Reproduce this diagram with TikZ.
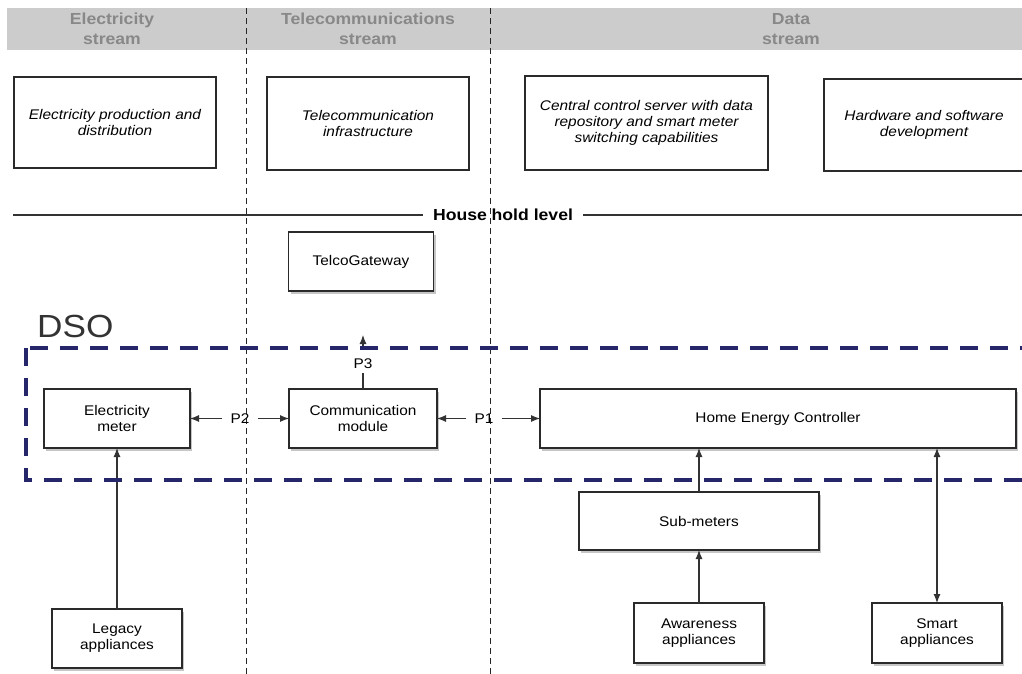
\documentclass[tikz,border=0pt]{standalone}
\usepackage{fontspec}
\setmainfont{Liberation Sans}[FakeStretch=1.1]
\usetikzlibrary{shadows,arrows.meta}
\definecolor{hdrgray}{HTML}{CCCCCC}
\definecolor{hdrtext}{HTML}{888888}
\definecolor{dsoblue}{RGB}{38,38,106}
\definecolor{edge}{HTML}{2A2A2A}
\tikzset{
  topbox/.style={draw=edge, line width=1.1pt, align=center, inner sep=2pt, outer sep=0pt,
    font=\fontsize{14}{16}\selectfont\itshape, text=black},
  box/.style={draw=edge, line width=1.1pt, fill=white, align=center, inner sep=2pt, outer sep=0pt,
    font=\fontsize{14}{16}\selectfont, text=black,
    drop shadow={shadow xshift=2pt, shadow yshift=-3pt, opacity=0.45}},
  hdr/.style={font=\bfseries\fontsize{16}{20}\selectfont, text=hdrtext, align=center, inner sep=0pt},
  vline/.style={draw=black!85, line width=0.8pt, dash pattern=on 6pt off 4pt},
  conn/.style={draw=black!80, line width=1.1pt},
  arr/.style={conn, -{Latex[length=9pt,width=7pt]}},
  darr/.style={conn, {Latex[length=9pt,width=7pt]}-{Latex[length=9pt,width=7pt]}},
  plab/.style={font=\fontsize{14}{16}\selectfont, text=black, inner xsep=8pt, inner ysep=5pt},
  dsobox/.style={draw=dsoblue, line width=4pt, dash pattern=on 18pt off 12pt}
}
\begin{document}
\begin{tikzpicture}[x=1pt,y=-1pt]
\useasboundingbox (0,0) rectangle (1022,674);
% header band
\fill[hdrgray] (7,8) rectangle (1022,50);
\node[hdr] (h1) at (112,29) {Electricity\\stream};
\node[hdr] (h2) at (368,29) {Telecommunications\\stream};
\node[hdr] (h3) at (791,29) {Data\\stream};
% stream separators
\draw[vline] (246,8) -- (246,674);
\draw[vline] (490,8) -- (490,674);
% top boxes
\node[topbox, minimum width=202pt, minimum height=91pt] (eprod) at (115,122.5) {Electricity production and\\distribution};
\node[topbox, minimum width=202pt, minimum height=93pt] (tinf) at (368,123.5) {Telecommunication\\infrastructure};
\node[topbox, minimum width=243pt, minimum height=94pt] (ccs) at (646.5,123) {Central control server with data\\repository and smart meter\\switching capabilities};
\node[topbox, minimum width=200pt, minimum height=92pt] (hw) at (924,125) {Hardware and software\\development};
% household level
\node[font=\bfseries\fontsize{16}{18}\selectfont, text=black, inner xsep=10pt, inner ysep=0pt] (hh) at (503,215) {House hold level};
\coordinate (hl) at (13,215);
\coordinate (hr) at (1022,215);
\draw[conn] (hl) -- (hh.west);
\draw[conn] (hh.east) -- (hr);
% lower boxes
\node[box, minimum width=145pt, minimum height=59pt] (telco) at (361,261.5) {TelcoGateway};
\node[box, minimum width=146pt, minimum height=59pt] (emeter) at (117,418.5) {Electricity\\meter};
\node[box, minimum width=148pt, minimum height=59pt] (comm) at (363,418.5) {Communication\\module};
\node[box, minimum width=476pt, minimum height=59pt] (hec) at (778,418.5) {Home Energy Controller};
\node[box, minimum width=240pt, minimum height=58pt] (sub) at (699,521) {Sub-meters};
\node[box, minimum width=130pt, minimum height=59pt] (legacy) at (117,638.5) {Legacy\\appliances};
\node[box, minimum width=130pt, minimum height=60pt] (aware) at (699,633) {Awareness\\appliances};
\node[box, minimum width=130pt, minimum height=60pt] (smart) at (937,633) {Smart\\appliances};
% P labels
\node[plab] (p2) at (240,418.5) {P2};
\node[plab] (p1) at (484,418.5) {P1};
\node[plab, inner ysep=4pt] (p3) at (363,364) {P3};
\draw[arr] (p2.west) -- (emeter.east);
\draw[arr] (p2.east) -- (comm.west);
\draw[arr] (p1.west) -- (comm.east);
\draw[arr] (p1.east) -- (hec.west);
\draw[conn] (comm.north) -- (p3.south);
\coordinate (p3base) at (363,348);
\coordinate (p3tip) at (363,335);
\draw[arr] (p3base) -- (p3tip);
% vertical links
\draw[arr] (legacy.north) -- (emeter.south);
\draw[arr] (sub.north) -- (sub.north |- hec.south);
\draw[arr] (aware.north) -- (sub.south);
\draw[darr] (smart.north) -- (smart.north |- hec.south);
% DSO boundary
\draw[dsobox] (26,348) rectangle (1060,480);
\node[anchor=west, font=\fontsize{32}{36}\selectfont, text=black!80, inner sep=0pt] (dso) at (37,326) {DSO};
\end{tikzpicture}
\end{document}
